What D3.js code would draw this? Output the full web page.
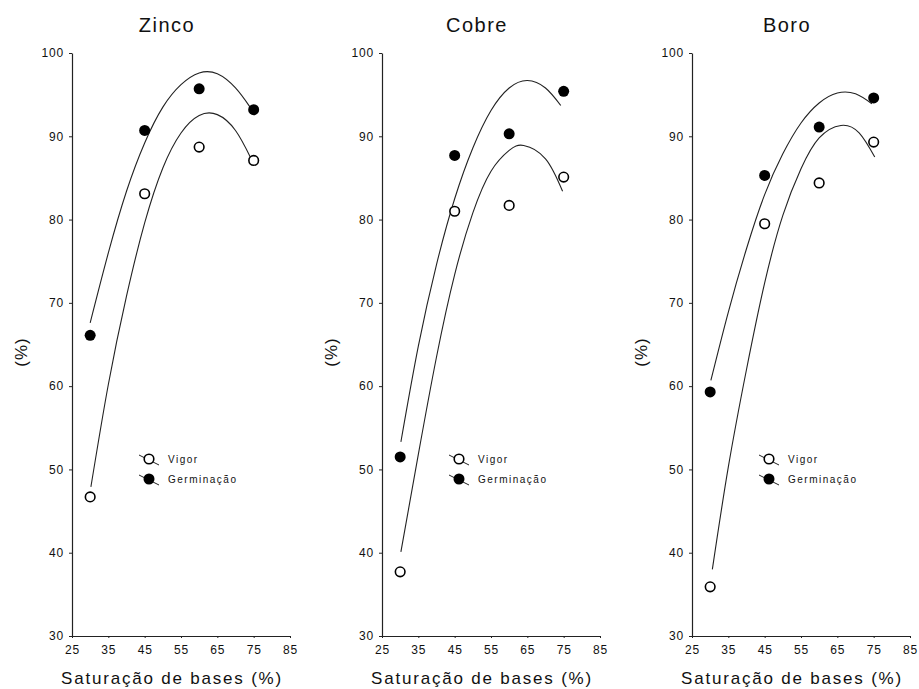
<!DOCTYPE html>
<html>
<head>
<meta charset="utf-8">
<script src="https://cdn.jsdelivr.net/npm/d3@7.9.0/dist/d3.min.js"></script>
<style>
  body { margin: 0; background: #fff; }
  text { font-family: "Liberation Sans", Arial, sans-serif; fill: #111; }
</style>
</head>
<body>
<svg id="chart" width="919" height="689"></svg>
<script>
// observed points (x = saturação de bases %)
const xLevels = [30, 45, 60, 75];
const zincoVigor = [46.7, 83.1, 88.7, 87.1];
const zincoGerm = [66.1, 90.7, 95.7, 93.2];
const cobreVigor = [37.7, 81.0, 81.7, 85.1];
const cobreGerm = [51.5, 87.7, 90.3, 95.4];
const boroVigor = [35.9, 79.5, 84.4, 89.3];
const boroGerm = [59.3, 85.3, 91.1, 94.6];

// fitted curves as [x, y]
const zincoGermCurve = [[30, 67.6], [35, 76.0], [40, 83.4], [45, 89.2], [50, 93.5], [55, 96.2], [60, 97.6], [65, 97.5], [70, 95.8], [74, 93.5]];
const zincoVigorCurve = [[30.2, 47.9], [35, 60.2], [40, 70.8], [45, 79.6], [50, 86.2], [55, 90.4], [60, 92.5], [65, 92.6], [70, 90.7], [74.2, 87.4]];
const cobreGermCurve = [[30.2, 53.3], [35, 64.8], [40, 74.6], [45, 82.5], [50, 88.6], [55, 93.1], [60, 95.8], [65, 96.7], [70, 95.8], [74.2, 93.7]];
const cobreVigorCurve = [[30.2, 40.1], [35, 51.8], [40, 63.5], [45, 73.4], [50, 80.8], [55, 85.8], [60, 88.3], [64, 88.9], [70, 87.3], [74.7, 83.4]];
const boroGermCurve = [[30.2, 60.7], [35, 68.9], [40, 76.5], [45, 83.0], [50, 87.9], [55, 91.6], [60, 94.0], [65, 95.2], [70, 95.1], [74.5, 93.9]];
const boroVigorCurve = [[30.6, 38.0], [35, 50.3], [40, 62.0], [45, 72.4], [50, 80.5], [55, 86.1], [60, 89.8], [66, 91.3], [71, 90.4], [75.3, 87.5]];

const xTicks = [25, 35, 45, 55, 65, 75, 85];
const yTicks = [30, 40, 50, 60, 70, 80, 90, 100];
const legendLabels = ["Vigor", "Germinação"];

const panels = [
  { title: "Zinco", left: 72, vigor: zincoVigor, germ: zincoGerm, vigorCurve: zincoVigorCurve, germCurve: zincoGermCurve },
  { title: "Cobre", left: 382, vigor: cobreVigor, germ: cobreGerm, vigorCurve: cobreVigorCurve, germCurve: cobreGermCurve },
  { title: "Boro", left: 692, vigor: boroVigor, germ: boroGerm, vigorCurve: boroVigorCurve, germCurve: boroGermCurve }
];

const svg = d3.select("#chart");
const plotW = 218;
const plotTop = 53, plotBottom = 636;

const y = d3.scaleLinear().domain([30, 100]).range([plotBottom, plotTop]);

panels.forEach(p => {
  const g = svg.append("g").attr("transform", `translate(${p.left},0)`);
  const x = d3.scaleLinear().domain([25, 85]).range([0, plotW]);

  // title
  g.append("text")
    .attr("x", 95).attr("y", 32)
    .attr("text-anchor", "middle")
    .attr("font-size", "20px")
    .attr("letter-spacing", "1.5px")
    .text(p.title);

  // axes
  const yAxis = g.append("g")
    .call(d3.axisLeft(y).tickValues(yTicks).tickSizeInner(3).tickSizeOuter(0).tickPadding(5));
  const xAxis = g.append("g")
    .attr("transform", `translate(0,${plotBottom})`)
    .call(d3.axisBottom(x).tickValues(xTicks).tickSizeInner(2).tickSizeOuter(0).tickPadding(7));
  [yAxis, xAxis].forEach(a => {
    a.select(".domain").attr("stroke", "#222").attr("stroke-width", 1.2);
    a.selectAll(".tick line").attr("stroke", "#222");
    a.selectAll(".tick text")
      .attr("font-family", "Liberation Sans, Arial, sans-serif")
      .attr("font-size", "12px")
      .attr("letter-spacing", "0.8px")
      .attr("fill", "#111");
  });

  // axis labels
  g.append("text")
    .attr("transform", `translate(-45,352) rotate(-90)`)
    .attr("text-anchor", "middle")
    .attr("font-size", "17px")
    .attr("letter-spacing", "1px")
    .text("(%)");

  g.append("text")
    .attr("x", 100).attr("y", 684)
    .attr("text-anchor", "middle")
    .attr("font-size", "17px")
    .attr("letter-spacing", "1.8px")
    .text("Saturação de bases (%)");

  // fitted curves
  const line = d3.line()
    .x(d => x(d[0]))
    .y(d => y(d[1]))
    .curve(d3.curveNatural);

  [p.germCurve, p.vigorCurve].forEach(c => {
    g.append("path")
      .datum(c)
      .attr("fill", "none")
      .attr("stroke", "#222")
      .attr("stroke-width", 1.1)
      .attr("d", line);
  });

  // points
  g.selectAll(".germ")
    .data(xLevels.map((v, i) => [v, p.germ[i]]))
    .enter().append("circle")
    .attr("class", "germ")
    .attr("cx", d => x(d[0]))
    .attr("cy", d => y(d[1]))
    .attr("r", 5.5)
    .attr("fill", "#000");

  g.selectAll(".vigor")
    .data(xLevels.map((v, i) => [v, p.vigor[i]]))
    .enter().append("circle")
    .attr("class", "vigor")
    .attr("cx", d => x(d[0]))
    .attr("cy", d => y(d[1]))
    .attr("r", 4.8)
    .attr("fill", "#fff")
    .attr("stroke", "#000")
    .attr("stroke-width", 1.6);

  // legend
  const legend = g.append("g").attr("transform", "translate(77,459)");
  legendLabels.forEach((lab, i) => {
    const row = legend.append("g").attr("transform", `translate(0,${i * 20})`);
    row.append("line")
      .attr("x1", -10).attr("y1", -4)
      .attr("x2", 10).attr("y2", 6)
      .attr("stroke", "#222")
      .attr("stroke-width", 1);
    row.append("circle")
      .attr("r", i === 0 ? 4.8 : 5.5)
      .attr("fill", i === 0 ? "#fff" : "#000")
      .attr("stroke", i === 0 ? "#000" : "none")
      .attr("stroke-width", 1.6);
    row.append("text")
      .attr("x", 19).attr("y", 4)
      .attr("font-size", "10px")
      .attr("letter-spacing", "1.5px")
      .text(lab);
  });
});
</script>
</body>
</html>
